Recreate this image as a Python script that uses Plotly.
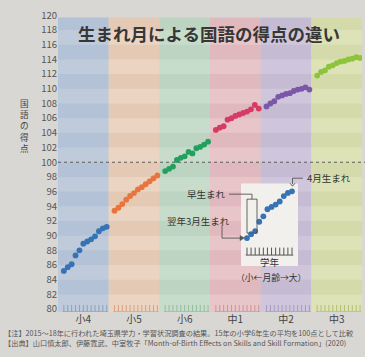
import plotly.graph_objects as go

# ---------------- data ----------------
grades = ["小4", "小5", "小6", "中1", "中2", "中3"]
# scores ordered left (翌年3月生まれ) -> right (4月生まれ)
sho4 = [85.2, 85.7, 86.1, 87.3, 88.0, 88.9, 89.2, 89.5, 89.9, 90.6, 91.0, 91.2]
sho5 = [93.4, 93.8, 94.3, 94.9, 95.4, 95.8, 96.3, 96.6, 97.0, 97.4, 97.8, 98.2]
sho6 = [98.8, 99.1, 99.4, 100.3, 100.6, 100.8, 101.4, 101.2, 101.9, 102.1, 102.4, 102.8]
chu1 = [104.4, 104.7, 104.9, 105.8, 106.0, 106.3, 106.5, 106.7, 106.9, 107.2, 107.8, 107.3]
chu2 = [107.6, 108.0, 108.3, 108.9, 109.1, 109.3, 109.4, 109.7, 109.9, 110.0, 110.2, 109.9]
chu3 = [111.8, 112.3, 112.5, 113.0, 113.2, 113.5, 113.7, 113.8, 114.0, 114.1, 114.3, 114.2]
series = [sho4, sho5, sho6, chu1, chu2, chu3]
months = list(range(12))
y_ticks = list(range(80, 121, 2))

# ---------------- styles ----------------
dot_colors = ["#3573b5", "#e8743e", "#23a05f", "#d63c63", "#7b57a8", "#8ec43c"]
panel_light = ["#bfcbdb", "#ebd4c1", "#c8dccc", "#e8c5c8", "#cfc6db", "#dde2b7"]
panel_dark = ["#b3c2d6", "#e4c9b4", "#bcd4c1", "#e0b9be", "#c5bbd3", "#d4daa9"]
comb_colors = ["#8aa0c2", "#d8a07e", "#8fbf9d", "#d4909a", "#a99ac1", "#b2bf70"]
FONT = "Noto Sans CJK JP"
W, H = 365, 357
L, R, T, B = 58, 362, 14.6, 312.0
PW = 13  # x units per panel


def px(x):
    return (x - L) / (R - L)


def py(y):
    return (B - y) / (B - T)


fig = go.Figure()
shapes = []
annotations = []

# panel backgrounds with alternating stripes
for i in range(6):
    x0, x1 = i * PW, (i + 1) * PW
    shapes.append(dict(type="rect", xref="x", yref="paper", x0=x0, x1=x1,
                       y0=0, y1=py(17.5), fillcolor=panel_light[i],
                       line=dict(width=0), layer="below"))
    for s in range(82, 120, 4):
        shapes.append(dict(type="rect", xref="x", yref="y", x0=x0, x1=x1,
                           y0=s, y1=min(s + 2, 119.7), fillcolor=panel_dark[i],
                           line=dict(width=0), layer="below"))

# dotted 100 line
shapes.append(dict(type="line", xref="paper", yref="y", x0=0, x1=px(366),
                   y0=100, y1=100, line=dict(color="#5a5a5a", width=1, dash="dot")))

# inset geometry
IX0, IX1, IY0, IY1 = 241, 298, 183, 266
ins_sx = 4.09
ins_sy = 7.8
ix0 = -(247 - IX0) / ins_sx
ix1 = ix0 + (IX1 - IX0) / ins_sx
iy0 = sho4[0] - (IY1 - 238) / ins_sy
iy1 = iy0 + (IY1 - IY0) / ins_sy

# inset box (in inset axes so it sits above the panel stripes)
shapes.append(dict(type="rect", xref="x2", yref="y2", x0=ix0, x1=ix1,
                   y0=iy0, y1=iy1, fillcolor="#f2f0ec",
                   line=dict(width=0), layer="below"))

# data + combs
for i, vals in enumerate(series):
    xs = [i * PW + 1.5 + m for m in months]
    cx, cy = [], []
    for xv in xs:
        cx += [xv, xv, None]
        cy += [79.62, 80.55, None]
    cx += [xs[0] - 0.3, xs[-1] + 0.3]
    cy += [79.62, 79.62]
    fig.add_trace(go.Scatter(x=cx, y=cy, mode="lines", hoverinfo="skip",
                             line=dict(color=comb_colors[i], width=1), showlegend=False))
    fig.add_trace(go.Scatter(x=xs, y=vals, mode="markers", name=grades[i],
                             marker=dict(color=dot_colors[i], size=5.8, line=dict(width=0)),
                             showlegend=False))

# inset: same 小4 series on its own axes
comb_base = iy0 + (IY1 - 255) / ins_sy
comb_top = iy0 + (IY1 - 247.5) / ins_sy
icx, icy = [], []
for m in months:
    icx += [m, m, None]
    icy += [comb_base, comb_top, None]
icx += [-0.3, 11.3]
icy += [comb_base, comb_base]
fig.add_trace(go.Scatter(x=icx, y=icy, xaxis="x2", yaxis="y2", mode="lines",
                         hoverinfo="skip", line=dict(color="#555555", width=1),
                         showlegend=False))
fig.add_trace(go.Scatter(x=months, y=sho4, xaxis="x2", yaxis="y2", mode="markers",
                         marker=dict(color=dot_colors[0], size=5.8, line=dict(width=0)),
                         showlegend=False))

# annotation leader lines
lc = dict(color="#555555", width=0.9)
shapes.append(dict(type="path", xref="paper", yref="paper",
                   path=f"M{px(303)},{py(178)} L{px(292.5)},{py(178)} L{px(292.5)},{py(184)}",
                   line=lc))
shapes.append(dict(type="path", xref="paper", yref="paper",
                   path=f"M{px(290)},{py(183)} L{px(292.5)},{py(186)} L{px(295)},{py(183)}",
                   line=lc))
shapes.append(dict(type="path", xref="paper", yref="paper",
                   path=f"M{px(229)},{py(194)} L{px(252)},{py(194)} L{px(252)},{py(199)}",
                   line=lc))
shapes.append(dict(type="rect", xref="paper", yref="paper", x0=px(247), x1=px(257),
                   y0=py(233), y1=py(199), line=lc))
shapes.append(dict(type="path", xref="paper", yref="paper",
                   path=f"M{px(222)},{py(225)} L{px(222)},{py(238)} L{px(241)},{py(238)}",
                   line=lc))
shapes.append(dict(type="path", xref="paper", yref="paper",
                   path=f"M{px(240)},{py(235.5)} L{px(244.5)},{py(238)} L{px(240)},{py(240.5)} Z",
                   fillcolor="#555555", line=dict(color="#555555", width=0.5)))


def txt(x, y, s, size, color="#333333", anchor="center", bold=False):
    annotations.append(dict(xref="paper", yref="paper", x=px(x), y=py(y), text=s,
                            showarrow=False, xanchor=anchor, yanchor="middle",
                            font=dict(family=FONT, size=size, color=color,
                                      weight="bold" if bold else "normal")))


txt(209, 33, "生まれ月による国語の得点の違い", 17.5, "#373737", bold=True)
txt(24, 125, "<br>".join("国語の得点"), 8.6, "#444444")
txt(305, 178, "4月生まれ", 9.5, anchor="left")
txt(228, 194, "早生まれ", 9.5, anchor="right")
txt(232, 221, "翌年3月生まれ", 9.5, anchor="right")
txt(270, 262, "学年", 9.5)
txt(271, 277, "（小←月齢→大）", 8.8)
txt(2, 333, "【注】2015～18年に行われた埼玉県学力・学習状況調査の結果。15年の小学6年生の平均を100点として比較",
    7.2, "#555555", anchor="left")
txt(2, 343, "【出典】山口慎太郎、伊藤寛武、中室牧子「Month-of-Birth Effects on Skills and Skill Formation」(2020)",
    7.2, "#555555", anchor="left")

fig.update_layout(
    width=W, height=H, autosize=False,
    margin=dict(l=L, r=W - R, t=T, b=H - B, pad=0),
    paper_bgcolor="#d8d7d4", plot_bgcolor="rgba(0,0,0,0)",
    font=dict(family=FONT),
    shapes=shapes, annotations=annotations,
    xaxis=dict(range=[0, 6 * PW], tickvals=[i * PW + PW / 2 for i in range(6)],
               ticktext=grades, showgrid=False, zeroline=False, showline=False,
               ticks="", tickfont=dict(size=10, color="#444444", family=FONT)),
    yaxis=dict(range=[79.6, 120.05], tickvals=y_ticks, showgrid=False, zeroline=False,
               showline=False, ticks="", tickfont=dict(size=9.5, color="#555555", family=FONT)),
    xaxis2=dict(domain=[px(IX0), px(IX1)], range=[ix0, ix1], anchor="y2",
                visible=False),
    yaxis2=dict(domain=[py(IY1), py(IY0)], range=[iy0, iy1], anchor="x2",
                visible=False),
)

fig.write_html("out.html", config={"displayModeBar": False},
               post_script="document.body.style.margin='0';document.body.style.overflow='hidden';")
